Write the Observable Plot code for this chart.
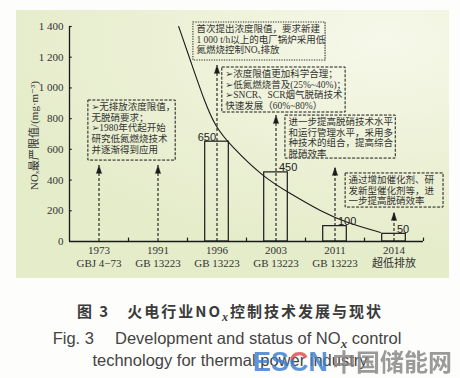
<!DOCTYPE html>
<html><head><meta charset="utf-8">
<script src="https://cdn.jsdelivr.net/npm/d3@7"></script>
<script src="https://cdn.jsdelivr.net/npm/@observablehq/plot@0.6"></script>
<style>
html,body{margin:0;padding:0;background:#fdfdfb;}
#wrap{position:relative;width:460px;height:378px;overflow:hidden;background:#fdfdfb;}
#panel{position:absolute;left:16px;top:10px;width:433px;height:268px;
  background:radial-gradient(ellipse 90% 80% at 85% 12%, #f6f8ea 0%, #eef2d9 45%, #e5ecca 100%);}
#chart{position:absolute;left:0;top:0;}
.cap{position:absolute;left:0;width:460px;text-align:center;white-space:nowrap;}
#cn{top:301px;font:bold 15px 'Noto Sans CJK SC',sans-serif;letter-spacing:2px;color:#3a3a3a;line-height:20px;}
.en{font:16.5px 'Liberation Sans',Arial,sans-serif;color:#444;line-height:20px;}
#en1{top:328px;left:-3px;}
#en2{top:350px;}
sub{font-family:'Liberation Serif',serif;font-style:italic;font-weight:bold;font-size:0.8em;vertical-align:-0.3em;line-height:0;}
#wm{position:absolute;left:253px;top:343px;white-space:nowrap;opacity:0.82;line-height:30px;}
#wm .e{font:bold 27px 'Liberation Sans',Arial,sans-serif;color:#3d7fcf;}
#wm .c{font:bold 27px 'Liberation Sans',Arial,sans-serif;background:linear-gradient(to bottom,#e04a4f 45%,#3d7fcf 45%);-webkit-background-clip:text;background-clip:text;color:transparent;}
#wm .z{font:bold 24px 'Noto Sans CJK SC',sans-serif;color:#858585;margin-left:4px;}
</style></head><body>
<div id="wrap">
  <div id="panel"></div>
  <div id="chart"></div>
  <div class="cap" id="cn">图 3&emsp;火电行业NO<sub>x</sub>控制技术发展与现状</div>
  <div class="cap en" id="en1">Fig. 3&emsp; Development and status of NO<sub>x</sub> control</div>
  <div class="cap en" id="en2">technology for thermal power industry</div>
  <div id="wm"><span class="e">ES</span><span class="c">C</span><span class="e">N</span><span class="z">中国储能网</span></div>
</div>
<script>
// ---- data ----
const years = ["1973", "1991", "1996", "2003", "2011", "2014"];
const standards = ["GBJ 4\u221273", "GB 13223", "GB 13223", "GB 13223", "GB 13223", "超低排放"];
const limits = [null, null, 650, 450, 100, 50];
const arrowTargets = [495, 495, 1146, 820, 482, 189];
const yTicks = [0, 200, 400, 600, 800, 1000, 1200, 1400];
const trendX = [1.85, 2.05, 2.29, 2.47, 2.73, 3.29, 3.71, 4.29, 4.69, 5.27];
const trendY = [1400, 1178, 910, 750, 625, 417, 319, 189, 124, 59];
const yLabel = "NOₓ最严限值/(mg·m⁻³)";
const noteTexts = [
  "➢无排放浓度限值，\n无脱硝要求；\n➢1980年代起开始\n研究低氮燃烧技术\n并逐渐得到应用",
  "首次提出浓度限值，要求新建\n1 000 t/h以上的电厂锅炉采用低\n氮燃烧控制NOₓ排放",
  "➢浓度限值更加科学合理；\n➢低氮燃烧普及(25%~40%)；\n➢SNCR、SCR烟气脱硝技术\n快速发展（60%~80%）",
  "进一步提高脱硝技术水平\n和运行管理水平，采用多\n种技术的组合，提高综合\n脱硝效率",
  "通过增加催化剂、研\n发新型催化剂等，进\n一步提高脱硝效率"
];

// ---- annotation placement (data units) ----
const notes = [
  {x1: 0.32, x2: 1.80, y1: 527, y2: 918, dotted: false},
  {x1: 2.10, x2: 4.34, y1: 1179, y2: 1426, dotted: true},
  {x1: 2.59, x2: 4.68, y1: 840, y2: 1133, dotted: false},
  {x1: 3.66, x2: 5.53, y1: 540, y2: 820, dotted: false},
  {x1: 4.68, x2: 6.34, y1: 221, y2: 443, dotted: false}
].map((b, i) => ({...b, text: noteTexts[i]}));

const idx = d3.range(years.length);
const cx = i => i + 0.5;
const barHalf = 0.2;
const barIdx = idx.filter(i => limits[i] != null);
const serif = "'Liberation Serif','Noto Sans CJK SC',serif";
const mixed = "'Liberation Serif','Noto Sans CJK SC','DejaVu Sans',sans-serif";
const sans = "'Liberation Sans',Arial,sans-serif";
const ink = "#1a1a1a";

const headMark = (typeof Plot.spike === "function")
  ? Plot.vector(idx, {x: cx, y: i => arrowTargets[i], length: 8, r: 2.6, shape: "spike", anchor: "end", rotate: 0, fill: ink, stroke: ink, strokeWidth: 0.5})
  : Plot.dot(idx, {x: cx, y: i => arrowTargets[i], symbol: "triangle", r: 2.6, fill: ink, stroke: "none", dy: 4});

const chart = Plot.plot({
  width: 460, height: 282,
  marginLeft: 69, marginRight: 37, marginTop: 26, marginBottom: 41,
  style: {background: "transparent", overflow: "visible", color: "#222"},
  x: {type: "linear", domain: [0, 6]},
  y: {domain: [0, 1400]},
  marks: [
    Plot.rect(barIdx, {x1: i => cx(i) - barHalf, x2: i => cx(i) + barHalf, y1: 0, y2: i => limits[i], fill: "none", stroke: ink, strokeWidth: 1.2}),
    Plot.line(d3.range(trendX.length), {x: i => trendX[i], y: i => trendY[i], curve: "basis", stroke: ink, strokeWidth: 1.1}),
    Plot.ruleX(idx, {x: cx, y1: 0, y2: i => arrowTargets[i], stroke: ink, strokeWidth: 1.1, strokeDasharray: "3,2"}),
    headMark,
    Plot.rect(notes.filter(d => !d.dotted), {x1: "x1", x2: "x2", y1: "y1", y2: "y2", fill: "none", stroke: ink, strokeWidth: 1, strokeDasharray: "3,1.5"}),
    Plot.rect(notes.filter(d => d.dotted), {x1: "x1", x2: "x2", y1: "y1", y2: "y2", fill: "none", stroke: "#333", strokeWidth: 1.1, strokeDasharray: "1.3,1.2"}),
    Plot.text(notes, {x: "x1", y: "y2", text: "text", textAnchor: "start", lineAnchor: "top", dx: 3, dy: 2, lineHeight: 1.12, fontSize: 9.5, fontFamily: mixed, fill: "#333"}),
    Plot.text(barIdx.filter(i => i === 2), {x: cx, y: i => limits[i], text: i => String(limits[i]), textAnchor: "end", lineAnchor: "bottom", dx: -1, dy: -1, fontSize: 11, fontFamily: sans, fill: "#222"}),
    Plot.text(barIdx.filter(i => i !== 2), {x: cx, y: i => limits[i], text: i => String(limits[i]), textAnchor: "start", lineAnchor: "bottom", dx: 3, dy: -1, fontSize: 11, fontFamily: sans, fill: "#222"}),
    Plot.ruleX([0], {y1: 0, y2: 1400, stroke: ink, strokeWidth: 1.3}),
    Plot.ruleY([0], {x1: 0, x2: 6, stroke: ink, strokeWidth: 1.3}),
    Plot.ruleY(yTicks.slice(1), {x1: 0, x2: 0.045, stroke: ink, strokeWidth: 1.2}),
    Plot.ruleX(d3.range(1, 7), {y1: 0, y2: 22, stroke: ink, strokeWidth: 1.2}),
    Plot.axisY(yTicks, {tickSize: 0, tickPadding: 6, label: null, fontSize: 11, fontFamily: serif, fill: "#333",
      tickFormat: d => d3.format(",")(d).replace(",", " ")}),
    Plot.axisX(idx.map(cx), {tickSize: 0, tickPadding: 3, label: null, fontSize: 11, fontFamily: serif, fill: "#333", lineHeight: 1.2,
      tickFormat: v => years[Math.floor(v)] + "\n" + standards[Math.floor(v)]}),
    Plot.text([yLabel], {x: -0.6, y: 690, text: d => d, textAnchor: "middle", lineAnchor: "middle", rotate: -90, fontSize: 11, fontFamily: mixed, fill: "#333"})
  ]
});
document.getElementById("chart").appendChild(chart);
</script>
</body></html>
